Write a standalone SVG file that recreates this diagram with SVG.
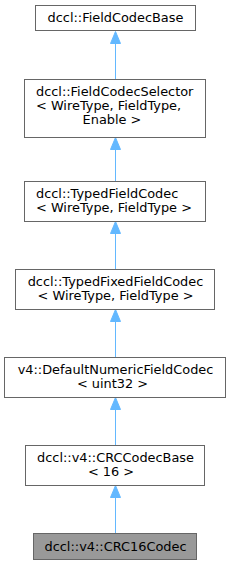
<svg xmlns="http://www.w3.org/2000/svg" width="231" height="564" viewBox="0 0 231 564">
<style>
.box{fill:#ffffff;stroke:#666666;stroke-width:1}
.cur{fill:#999999;stroke:#666666;stroke-width:1}
text{font-family:"DejaVu Sans",sans-serif;font-size:12.9px;fill:#000000}
.c{text-anchor:middle}
.l{text-anchor:start}
.edge{stroke:#63b8ff;stroke-width:1;fill:none}
.head{fill:#63b8ff;stroke:#63b8ff;stroke-width:1}
</style>
<g id="connectors">
<line class="edge" x1="115.5" y1="79" x2="115.5" y2="43"/>
<polygon class="head" points="115.5,31.5 110.5,43.5 120.5,43.5"/>
<line class="edge" x1="115.5" y1="181" x2="115.5" y2="149"/>
<polygon class="head" points="115.5,137.5 110.5,149.5 120.5,149.5"/>
<line class="edge" x1="115.5" y1="269" x2="115.5" y2="233"/>
<polygon class="head" points="115.5,221.5 110.5,233.5 120.5,233.5"/>
<line class="edge" x1="115.5" y1="357" x2="115.5" y2="321"/>
<polygon class="head" points="115.5,309.5 110.5,321.5 120.5,321.5"/>
<line class="edge" x1="115.5" y1="445" x2="115.5" y2="409"/>
<polygon class="head" points="115.5,397.5 110.5,409.5 120.5,409.5"/>
<line class="edge" x1="115.5" y1="533" x2="115.5" y2="497"/>
<polygon class="head" points="115.5,485.5 110.5,497.5 120.5,497.5"/>
</g>
<g id="node1">
<rect class="box" x="35.5" y="5.5" width="160" height="25"/>
<text class="c" x="115.5" y="22">dccl::FieldCodecBase</text>
</g>
<g id="node2">
<rect class="box" x="24.5" y="79.5" width="181" height="58"/>
<text class="l" x="36" y="95.5">dccl::FieldCodecSelector</text>
<text class="l" x="36" y="109.5">&lt; WireType, FieldType,</text>
<text class="c" x="112" y="123.5"> Enable &gt;</text>
</g>
<g id="node3">
<rect class="box" x="24.5" y="181.5" width="181" height="40"/>
<text class="l" x="36" y="197.5">dccl::TypedFieldCodec</text>
<text class="l" x="36" y="211.5">&lt; WireType, FieldType &gt;</text>
</g>
<g id="node4">
<rect class="box" x="15.5" y="269.5" width="199" height="40"/>
<text class="c" x="115.5" y="285.5">dccl::TypedFixedFieldCodec</text>
<text class="c" x="115.5" y="299.5">&lt; WireType, FieldType &gt;</text>
</g>
<g id="node5">
<rect class="box" x="4.5" y="357.5" width="221" height="40"/>
<text class="c" x="115.5" y="373.5">v4::DefaultNumericFieldCodec</text>
<text class="c" x="112.5" y="387.5">&lt; uint32 &gt;</text>
</g>
<g id="node6">
<rect class="box" x="25.5" y="445.5" width="179" height="40"/>
<text class="c" x="115.5" y="461.5">dccl::v4::CRCCodecBase</text>
<text class="c" x="111" y="475.5">&lt; 16 &gt;</text>
</g>
<g id="node7">
<rect class="cur" x="33.5" y="533.5" width="163" height="26"/>
<text class="c" x="115.5" y="550.5">dccl::v4::CRC16Codec</text>
</g>
</svg>
